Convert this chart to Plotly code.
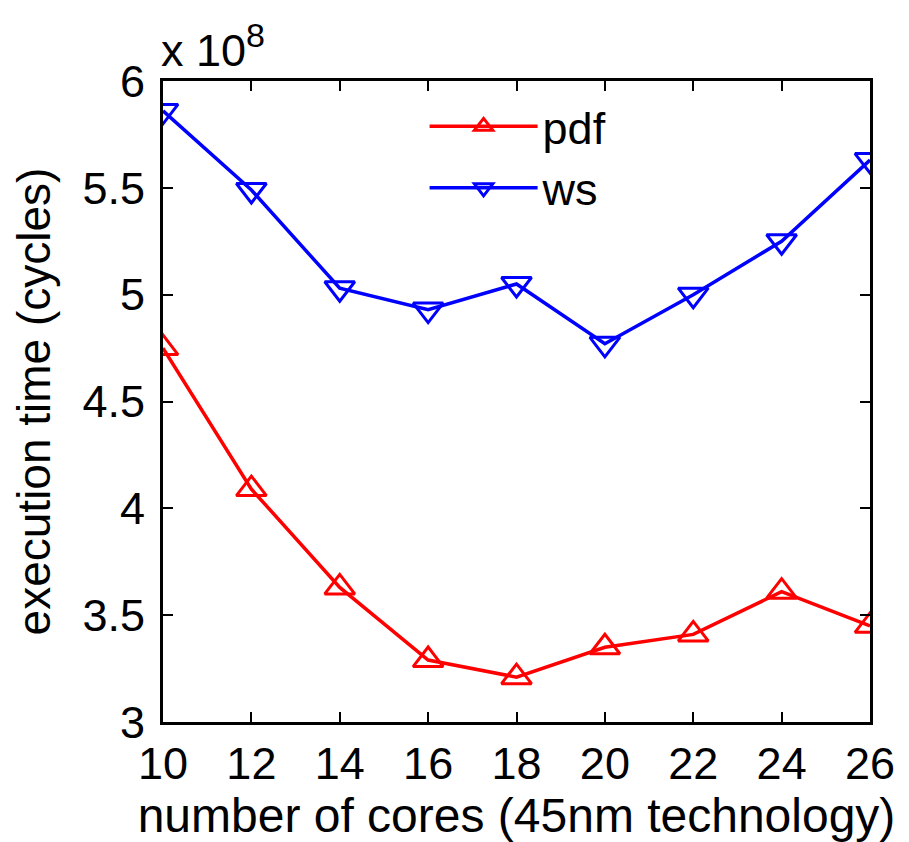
import plotly.graph_objects as go

cores = [10, 12, 14, 16, 18, 20, 22, 24, 26]
# execution time in units of 1e8 cycles
pdf_vals = [4.75, 4.09, 3.63, 3.29, 3.21, 3.35, 3.41, 3.61, 3.45]
ws_vals = [5.86, 5.49, 5.03, 4.93, 5.05, 4.77, 5.00, 5.25, 5.63]
y_ticks = [3, 3.5, 4, 4.5, 5, 5.5, 6]
y_tick_labels = ["3", "3.5", "4", "4.5", "5", "5.5", "6"]
x_ticks = [10, 12, 14, 16, 18, 20, 22, 24, 26]

FONT = "Liberation Sans, Arial, Helvetica, sans-serif"
FS = 45

fig = go.Figure()
fig.add_trace(go.Scatter(
    x=cores, y=pdf_vals, name="pdf", mode="lines+markers",
    line=dict(color="#ff0000", width=3.5),
    marker=dict(symbol="triangle-up-open", size=26, color="#ff0000",
                line=dict(width=3, color="#ff0000")),
))
fig.add_trace(go.Scatter(
    x=cores, y=ws_vals, name="ws", mode="lines+markers",
    line=dict(color="#0000ff", width=3.5),
    marker=dict(symbol="triangle-down-open", size=26, color="#0000ff",
                line=dict(width=3, color="#0000ff")),
))

axis_common = dict(
    showline=True, linecolor="black", linewidth=3, mirror="ticks",
    ticks="inside", ticklen=10, tickwidth=2, tickcolor="black",
    showgrid=False, zeroline=False,
    tickfont=dict(family=FONT, size=FS, color="black"),
)

fig.update_layout(
    width=909, height=842,
    margin=dict(l=155, r=47, t=73, b=128),
    paper_bgcolor="white", plot_bgcolor="white",
    font=dict(family=FONT, size=FS, color="black"),
    xaxis=dict(range=[10, 26], tickvals=x_ticks,
               title=dict(text="number of cores (45nm technology)",
                          font=dict(family=FONT, size=48), standoff=2),
               **axis_common),
    yaxis=dict(range=[3, 6], tickvals=y_ticks, ticktext=y_tick_labels,
               ticklabelstandoff=6,
               title=dict(text="execution time (cycles)",
                          font=dict(family=FONT, size=46), standoff=20),
               **axis_common),
    legend=dict(x=0.37, y=0.985, xanchor="left", yanchor="top",
                bgcolor="rgba(0,0,0,0)", font=dict(family=FONT, size=FS),
                itemwidth=108, tracegroupgap=0),
    showlegend=True,
    annotations=[dict(text="x 10<sup><span style='font-size:34px'>8</span></sup>",
                      xref="paper", yref="paper",
                      x=-0.005, y=1.005, xanchor="left", yanchor="bottom",
                      showarrow=False, font=dict(family=FONT, size=45))],
)

fig.write_html("out.html")
